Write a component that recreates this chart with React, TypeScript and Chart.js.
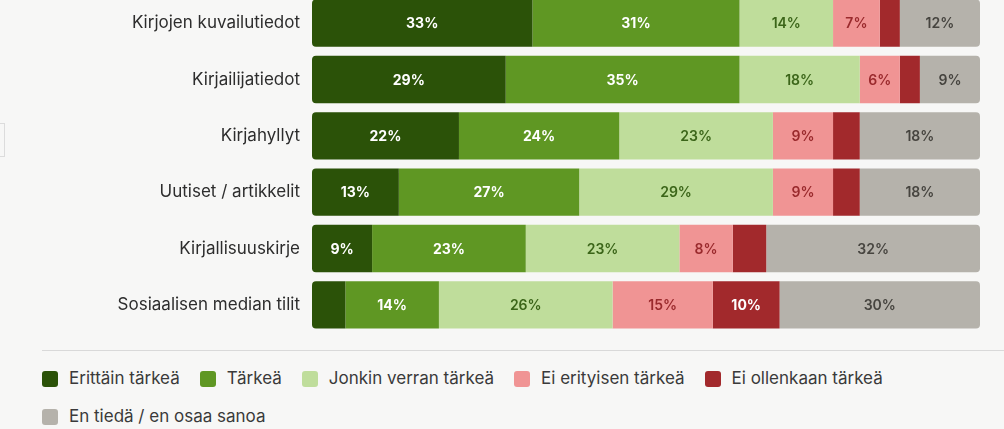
import React, { useEffect, useRef } from "react";
import { Chart, registerables } from "chart.js";

Chart.register(...registerables);

// Survey topics (rows)
const categories = [
  "Kirjojen kuvailutiedot",
  "Kirjailijatiedot",
  "Kirjahyllyt",
  "Uutiset / artikkelit",
  "Kirjallisuuskirje",
  "Sosiaalisen median tilit",
];

// Answer options (stack segments)
const seriesNames = [
  "Erittäin tärkeä",
  "Tärkeä",
  "Jonkin verran tärkeä",
  "Ei erityisen tärkeä",
  "Ei ollenkaan tärkeä",
  "En tiedä / en osaa sanoa",
];

// Shares in percent per topic
const veryImportant = [33, 29, 22, 13, 9, 5];
const important = [31, 35, 24, 27, 23, 14];
const somewhatImportant = [14, 18, 23, 29, 23, 26];
const notParticularly = [7, 6, 9, 9, 8, 15];
const notAtAll = [3, 3, 4, 4, 5, 10];
const dontKnow = [12, 9, 18, 18, 32, 30];

const seriesValues = [
  veryImportant,
  important,
  somewhatImportant,
  notParticularly,
  notAtAll,
  dontKnow,
];

const seriesColors = ["#2b5208", "#5f9723", "#bfdd9b", "#f09494", "#a2292c", "#b5b2ab"];
const valueLabelColors = ["#ffffff", "#ffffff", "#3b6519", "#9a2a2d", "#ffffff", "#46443f"];
const valueLabelWeights = ["700", "700", "600", "600", "700", "600"];

// Segments smaller than this are left without a value label
const minLabelValue = 6;

const FONT = "Inter, 'Noto Sans', 'DejaVu Sans', sans-serif";
const BG = "#f7f7f6";

const valueLabelPlugin = {
  id: "segmentValues",
  afterDatasetsDraw(chart: any) {
    const ctx = chart.ctx;
    ctx.save();
    ctx.textAlign = "center";
    ctx.textBaseline = "middle";
    chart.data.datasets.forEach((ds: any, di: number) => {
      const meta = chart.getDatasetMeta(di);
      if (meta.hidden) return;
      meta.data.forEach((bar: any, i: number) => {
        const v = ds.data[i];
        if (v < minLabelValue) return;
        const { x, y, base } = bar.getProps(["x", "y", "base"], true);
        ctx.font = `${valueLabelWeights[di]} 14px ${FONT}`;
        ctx.fillStyle = valueLabelColors[di];
        ctx.fillText(`${v}%`, (x + base) / 2, y + 1);
      });
    });
    ctx.restore();
  },
};

function BarChart() {
  const canvasRef = useRef<HTMLCanvasElement | null>(null);

  useEffect(() => {
    if (!canvasRef.current) return;
    const last = seriesValues.length - 1;
    const chart = new Chart(canvasRef.current, {
      type: "bar",
      data: {
        labels: categories,
        datasets: seriesNames.map((name, i) => ({
          label: name,
          data: seriesValues[i],
          backgroundColor: seriesColors[i],
          borderWidth: 0,
          borderSkipped: false,
          borderRadius:
            i === 0
              ? { topLeft: 4, bottomLeft: 4, topRight: 0, bottomRight: 0 }
              : i === last
              ? { topLeft: 0, bottomLeft: 0, topRight: 4, bottomRight: 4 }
              : 0,
          categoryPercentage: 1,
          barPercentage: 47 / 56,
        })),
      },
      options: {
        indexAxis: "y",
        animation: false,
        responsive: true,
        maintainAspectRatio: false,
        layout: { padding: { left: 0, right: 24, top: 0, bottom: 0 } },
        plugins: {
          legend: { display: false },
          tooltip: { enabled: false },
        },
        scales: {
          x: {
            stacked: true,
            min: 0,
            max: 100,
            display: false,
          },
          y: {
            stacked: true,
            grid: { display: false, drawTicks: false },
            border: { display: false },
            ticks: {
              padding: 12,
              color: "#2d2d2d",
              font: { family: FONT, size: 17, weight: "400" },
            },
            afterFit(scale: any) {
              // fixed label column; rows use the full canvas height
              scale.width = 312;
              scale.paddingTop = 0;
              scale.paddingBottom = 0;
            },
          },
        },
      },
      plugins: [valueLabelPlugin],
    } as any);
    return () => chart.destroy();
  }, []);

  return (
    <div style={{ position: "absolute", left: 0, top: -5, width: 1004, height: 338 }}>
      <canvas ref={canvasRef} />
    </div>
  );
}

function Legend() {
  return (
    <div
      style={{
        position: "absolute",
        left: 42,
        top: 368,
        width: 962,
        display: "flex",
        flexWrap: "wrap",
        columnGap: 20,
        rowGap: 17,
      }}
    >
      {seriesNames.map((name, i) => (
        <div key={name} style={{ display: "flex", alignItems: "center", height: 21 }}>
          <span
            style={{
              display: "inline-block",
              width: 16,
              height: 16,
              borderRadius: 3,
              background: seriesColors[i],
              marginRight: 11,
            }}
          />
          <span style={{ fontFamily: FONT, fontSize: 17, color: "#3a3a3a", lineHeight: "21px" }}>
            {name}
          </span>
        </div>
      ))}
    </div>
  );
}

export default function App() {
  return (
    <div
      style={{
        position: "fixed",
        left: 0,
        top: 0,
        width: 1004,
        height: 429,
        background: BG,
        overflow: "hidden",
      }}
    >
      <div
        style={{
          position: "absolute",
          left: -30,
          top: 123,
          width: 33,
          height: 32,
          border: "1px solid #dcdcdc",
        }}
      />
      <BarChart />
      <div
        style={{
          position: "absolute",
          left: 42,
          top: 350,
          width: 962,
          height: 0,
          borderTop: "1px solid #d9d9d9",
        }}
      />
      <Legend />
    </div>
  );
}
